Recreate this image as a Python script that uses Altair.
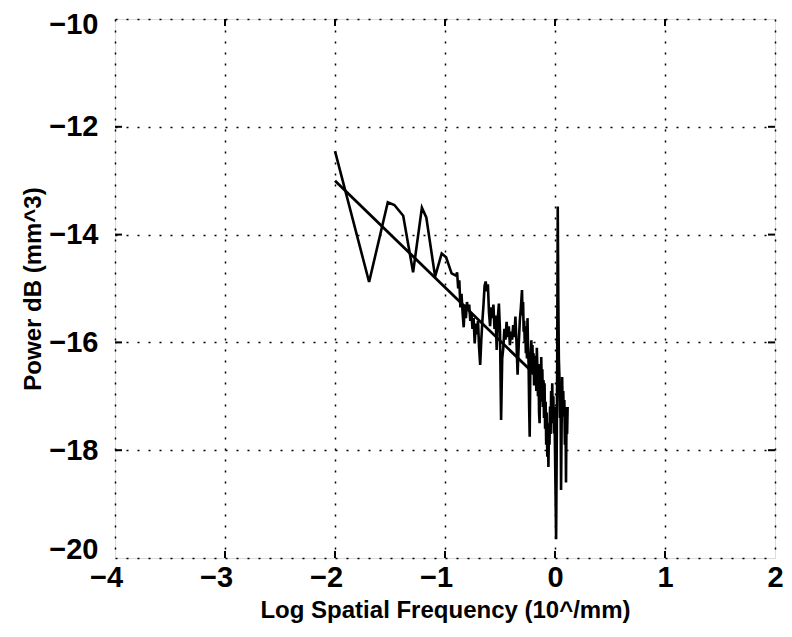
import altair as alt
import pandas as pd

# Power spectrum
spec_x = [-2.00, -1.69, -1.52, -1.46, -1.38, -1.29, -1.21, -1.17, -1.09, -1.03,
          -0.99, -0.94,
          -0.90, -0.89, -0.88, -0.87, -0.86, -0.85, -0.84, -0.83, -0.82, -0.81,
          -0.80, -0.79, -0.78, -0.77, -0.76, -0.75, -0.74, -0.73, -0.72, -0.71,
          -0.70, -0.69, -0.68, -0.67, -0.66, -0.65, -0.64, -0.63, -0.62, -0.61,
          -0.60, -0.59, -0.58, -0.57, -0.56, -0.55, -0.54, -0.53, -0.52, -0.51,
          -0.50, -0.49, -0.48, -0.47, -0.46, -0.45, -0.44, -0.43, -0.42, -0.41,
          -0.40, -0.39, -0.38, -0.37, -0.36, -0.35, -0.34, -0.33, -0.32, -0.31,
          -0.300, -0.295, -0.290, -0.285, -0.280, -0.275, -0.270, -0.265, -0.260, -0.255,
          -0.250, -0.245, -0.240, -0.235, -0.230, -0.225, -0.220, -0.215, -0.210, -0.205,
          -0.200, -0.195, -0.190, -0.185, -0.180, -0.175, -0.170, -0.165, -0.160, -0.155,
          -0.150, -0.145, -0.140, -0.135, -0.130, -0.125, -0.120, -0.115, -0.110, -0.105,
          -0.100, -0.095, -0.090, -0.085, -0.080, -0.075, -0.070, -0.065, -0.060, -0.055,
          -0.050, -0.045, -0.040, -0.035, -0.030, -0.025, -0.020, -0.015, -0.010, -0.005,
          0.000, 0.005, 0.010, 0.015, 0.020, 0.025, 0.030, 0.035, 0.040, 0.045,
          0.050, 0.055, 0.060, 0.065, 0.070, 0.075, 0.080, 0.085, 0.090, 0.095,
          0.100, 0.105, 0.110, 0.115]
spec_y = [-12.45, -14.88, -13.40, -13.45, -13.65, -14.70, -13.50, -13.68, -14.78, -14.35,
          -14.42, -14.72,
          -14.76, -14.70, -15.00, -14.85, -15.35, -15.10, -15.45, -15.72, -15.30, -15.55,
          -15.25, -15.40, -15.30, -15.60, -15.45, -15.75, -15.55, -16.02, -15.65, -15.85,
          -15.60, -16.10, -16.42, -15.95, -15.60, -15.30, -14.95, -14.87, -15.05, -14.92,
          -15.45, -15.70, -15.35, -15.55, -15.30, -15.75, -15.50, -16.14, -15.55, -15.28,
          -15.80, -17.44, -16.30, -16.10, -15.75, -15.95, -15.62, -15.90, -15.70, -16.05,
          -15.80, -15.95, -15.68, -15.90, -15.52, -16.00, -16.60, -16.05, -15.60, -15.35,
          -15.03, -15.50, -15.25, -15.80, -15.60, -16.00, -15.70, -16.20, -15.85, -16.30,
          -15.55, -16.10, -16.40, -17.20, -17.75, -16.60, -16.20, -15.96, -16.45, -16.05,
          -16.60, -16.20, -16.80, -16.35, -16.76, -16.25, -16.90, -16.10, -16.50, -17.00,
          -16.40, -17.30, -17.50, -16.80, -17.10, -16.27, -16.90, -16.50, -17.20, -16.70,
          -17.40, -16.76, -17.60, -17.10, -17.90, -17.30, -18.12, -17.50, -18.31, -17.60,
          -17.90, -17.19, -17.70, -16.90, -17.40, -16.76, -17.50, -17.00, -17.69, -17.20,
          -18.00, -18.80, -19.65, -18.20, -16.40, -13.48, -15.20, -16.30, -16.64, -17.40,
          -16.90, -18.74, -17.60, -16.64, -17.30, -16.90, -17.38, -17.07, -17.90, -17.20,
          -18.60, -17.30, -17.70, -17.20]

# Linear fit
fit_x = [-2.0, -0.1]
fit_y = [-13.0, -16.76]

x_ticks = [-4, -3, -2, -1, 0, 1, 2]
y_ticks = [-20, -18, -16, -14, -12, -10]
x_inner = [-3, -2, -1, 0, 1]
y_inner = [-18, -16, -14, -12]

W, H = 660, 539
FONT = "Liberation Sans"

spec = pd.DataFrame({"x": spec_x, "y": spec_y, "o": list(range(len(spec_x)))})
fit = pd.DataFrame({"x": fit_x, "y": fit_y})

xs = alt.Scale(domain=[-4, 2], nice=False, zero=False)
ys = alt.Scale(domain=[-20, -10], nice=False, zero=False)

xaxis = alt.Axis(values=x_ticks, title="Log Spatial Frequency (10^/mm)", format="d",
                 grid=True, gridColor="black", gridDash=[2, 9], gridWidth=1.5, gridOpacity=1,
                 ticks=False, domain=False, labelFlush=False,
                 labelOffset={"condition": {"test": "datum.value < 0", "value": -9}, "value": 0},
                 labelFont=FONT, labelFontSize=29,
                 labelFontWeight="bold", labelColor="black", labelPadding=5,
                 titleFont=FONT, titleFontSize=24, titleFontWeight="bold",
                 titleColor="black", titlePadding=6)
yaxis = alt.Axis(values=y_ticks, title="Power dB (mm^3)", format="d",
                 grid=True, gridColor="black", gridDash=[2, 9], gridWidth=1.5, gridOpacity=1,
                 ticks=False, domain=False, labelFlush=False,
                 labelOffset={"condition": [{"test": "datum.value == -20", "value": -9},
                                            {"test": "datum.value == -10", "value": 5}],
                              "value": 0},
                 labelFont=FONT, labelFontSize=29,
                 labelFontWeight="bold", labelColor="black", labelPadding=17,
                 titleFont=FONT, titleFontSize=24, titleFontWeight="bold",
                 titleColor="black", titlePadding=3)

base_line = alt.Chart(spec).mark_line(color="black", strokeWidth=2.6, interpolate="linear").encode(
    x=alt.X("x:Q", scale=xs, axis=xaxis),
    y=alt.Y("y:Q", scale=ys, axis=yaxis),
    order="o:Q",
)

fit_line = alt.Chart(fit).mark_line(color="black", strokeWidth=2.8).encode(
    x=alt.X("x:Q", scale=xs),
    y=alt.Y("y:Q", scale=ys),
)

xt = pd.DataFrame({"x": x_inner})
yt = pd.DataFrame({"y": y_inner})

tick_bottom = alt.Chart(xt).mark_rule(color="black", strokeWidth=2).encode(
    x=alt.X("x:Q", scale=xs), y=alt.value(H), y2=alt.value(H - 7))
tick_top = alt.Chart(xt).mark_rule(color="black", strokeWidth=2).encode(
    x=alt.X("x:Q", scale=xs), y=alt.value(0), y2=alt.value(7))
tick_left = alt.Chart(yt).mark_rule(color="black", strokeWidth=2).encode(
    y=alt.Y("y:Q", scale=ys), x=alt.value(0), x2=alt.value(7))
tick_right = alt.Chart(yt).mark_rule(color="black", strokeWidth=2).encode(
    y=alt.Y("y:Q", scale=ys), x=alt.value(W), x2=alt.value(W - 7))

chart = alt.layer(base_line, fit_line, tick_bottom, tick_top, tick_left, tick_right).properties(
    width=W, height=H,
    autosize=alt.AutoSizeParams(type="none"),
    padding={"left": 107, "top": 11, "right": 9, "bottom": 71},
).configure_view(stroke="black", strokeWidth=2.5).configure(background="white")

chart.save("out.html", embed_options={"renderer": "svg", "actions": False})
